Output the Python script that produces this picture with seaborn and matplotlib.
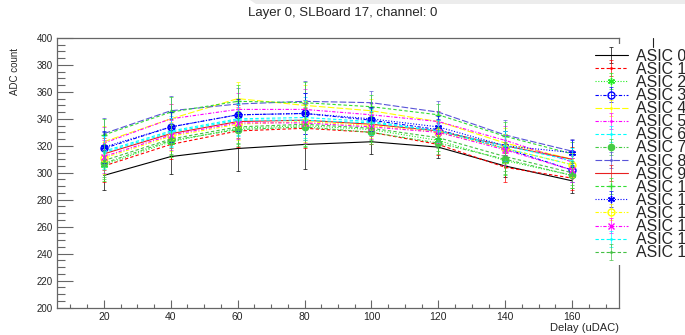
import numpy as np
import pandas as pd
import matplotlib
matplotlib.use("Agg")
import matplotlib.pyplot as plt
import seaborn as sns
from matplotlib.container import ErrorbarContainer
from matplotlib.lines import Line2D
from matplotlib.patches import Polygon
from matplotlib.ticker import MultipleLocator

# Delay scan points
delay = [20, 40, 60, 80, 100, 120, 140, 160]

# Mean ADC count per ASIC at each delay
adc_asic0 = [298, 312, 318, 321, 323, 319, 305, 294]
adc_asic1 = [305, 321, 331, 333, 330, 321, 304, 296]
adc_asic2 = [306, 323, 333, 335, 332, 324, 309, 298]
adc_asic3 = [318, 334, 343, 344, 339, 332, 318, 302]
adc_asic4 = [323, 340, 355, 350, 346, 338, 322, 310]
adc_asic5 = [322, 340, 347, 347, 343, 338, 324, 308]
adc_asic6 = [316, 331, 340, 341, 338, 331, 318, 306]
adc_asic7 = [307, 324, 332, 334, 330, 322, 310, 298]
adc_asic8 = [329, 346, 351, 353, 352, 345, 328, 316]
adc_asic9 = [314, 329, 338, 339, 336, 331, 320, 310]
adc_asic10 = [328, 345, 353, 352, 349, 343, 327, 314]
adc_asic11 = [319, 334, 343, 344, 340, 334, 320, 315]
adc_asic12 = [311, 327, 336, 338, 335, 330, 318, 306]
adc_asic13 = [312, 328, 337, 337, 334, 330, 317, 302]
adc_asic14 = [315, 330, 339, 339, 337, 331, 320, 309]
adc_asic15 = [309, 325, 334, 336, 333, 326, 312, 300]

# Spread (RMS) of the ADC count
err_asic0 = [11, 13, 17, 18, 9, 8, 8, 9]
err_other = [12, 11, 12, 15, 9, 8, 11, 9]

asic_labels = [f"ASIC {i}" for i in range(16)]
adc_values = [adc_asic0, adc_asic1, adc_asic2, adc_asic3, adc_asic4, adc_asic5,
              adc_asic6, adc_asic7, adc_asic8, adc_asic9, adc_asic10, adc_asic11,
              adc_asic12, adc_asic13, adc_asic14, adc_asic15]

df = pd.DataFrame({
    "asic": np.repeat(asic_labels, len(delay)),
    "delay": np.tile(delay, len(asic_labels)),
    "adc": np.concatenate(adc_values),
    "err": np.concatenate([err_asic0] + [err_other] * 15),
})

# ROOT-like graph styles
colors = ["#000000", "#ff0000", "#22ee22", "#0000ff", "#ffff00", "#ff00ff",
          "#00ffff", "#44cc44", "#5954d8", "#e82020", "#33dd33", "#0000ff",
          "#ffff00", "#ff00ff", "#00ffff", "#44c044"]
short_dash = (0, (3, 2))
dotted = (0, (1, 1.5))
dash_dot = (0, (3, 1.5, 1, 1.5))
long_dash = (0, (6, 2))
linestyles = ["-", short_dash, dotted, dash_dot, long_dash, dash_dot,
              short_dash, dash_dot, long_dash, "-", short_dash, dotted,
              dash_dot, dash_dot, short_dash, short_dash]
markers = [None, ".", (6, 2, 0), "o", ".", ".", ".", "o",
           ".", None, "+", (6, 2, 0), "o", "x", ".", "."]
marker_sizes = [0, 2, 5, 5, 2, 2, 2, 4.5, 2, 0, 4, 5, 5, 4, 2, 2]
filled = [True, True, True, False, True, True, True, True,
          True, True, True, True, False, True, True, True]

sns.set_style("white")
plt.rcParams["font.family"] = ["Liberation Sans", "DejaVu Sans"]

W, H = 685, 335
fig = plt.figure(figsize=(W / 100, H / 100), dpi=100)
ax = fig.add_axes([57 / W, (H - 307.5) / H, (619 - 57) / W, (307.5 - 38) / H])

handles = []
for i, label in enumerate(asic_labels):
    sub = df[df["asic"] == label]
    sns.lineplot(data=sub, x="delay", y="adc", ax=ax, color=colors[i],
                 linestyle=linestyles[i], linewidth=0.8,
                 marker=markers[i] if markers[i] is not None else "",
                 markersize=marker_sizes[i],
                 markerfacecolor=colors[i] if filled[i] else "none",
                 markeredgecolor=colors[i], markeredgewidth=1.0,
                 legend=False, errorbar=None, sort=False)
    line = ax.lines[-1]
    eb = ax.errorbar(sub["delay"], sub["adc"], yerr=sub["err"], fmt="none",
                     ecolor=colors[i], elinewidth=0.7, capsize=1.5, capthick=0.7,
                     alpha=0.7)
    handles.append(ErrorbarContainer((line, eb.lines[1], eb.lines[2]),
                                     has_xerr=False, has_yerr=True, label=label))

ax.set_xlim(6, 174)
ax.set_ylim(200, 400)
ax.set_xlabel("")
ax.set_ylabel("")
ax.xaxis.set_major_locator(MultipleLocator(20))
ax.xaxis.set_minor_locator(MultipleLocator(5))
ax.yaxis.set_major_locator(MultipleLocator(20))
ax.yaxis.set_minor_locator(MultipleLocator(5))
frame_color = "#666666"
for s in ax.spines.values():
    s.set_visible(True)
    s.set_color(frame_color)
    s.set_linewidth(0.9)
ax.tick_params(axis="x", which="major", direction="in", length=5.8, width=0.8,
               color=frame_color, labelsize=7.5, pad=3, bottom=True)
ax.tick_params(axis="x", which="minor", direction="in", length=2.9, width=0.8,
               color=frame_color, bottom=True)
ax.tick_params(axis="y", which="major", direction="in", length=11.5, width=0.8,
               color=frame_color, labelsize=7, pad=3, left=True)
ax.tick_params(axis="y", which="minor", direction="in", length=5.8, width=0.8,
               color=frame_color, left=True)
ax.grid(False)

leg = ax.legend(handles=handles, loc="upper left",
                bbox_to_anchor=(590 / W, (H - 44) / H),
                bbox_transform=fig.transFigure, fontsize=11.4,
                labelspacing=-0.12, handlelength=2.1, handletextpad=0.5,
                borderpad=0.3, borderaxespad=0, frameon=True, fancybox=False,
                facecolor="white", edgecolor="none", framealpha=1)
leg.set_zorder(10)

fig.text(0.5, (H - 13) / H, "Layer 0, SLBoard 17, channel: 0",
         ha="center", va="center", fontsize=9.5)
fig.text(619 / W, (H - 328) / H, "Delay (uDAC)", ha="right", va="center",
         fontsize=8)
fig.text(15 / W, (H - 48) / H, "ADC count", ha="center", va="top",
         rotation=90, fontsize=7)

# Light band along the top edge of the canvas
band = [(250, 0), (685, 0), (685, 4), (256, 4)]
fig.add_artist(Polygon([(x / W, 1 - y / H) for x, y in band], closed=True,
                       transform=fig.transFigure, facecolor="#ececec",
                       edgecolor="none"))
fig.add_artist(Line2D([653 / W, 653 / W], [1 - 38 / H, 1 - 47 / H],
                      transform=fig.transFigure, color="#222222", lw=0.8))

fig.savefig("out.png", dpi=100)
